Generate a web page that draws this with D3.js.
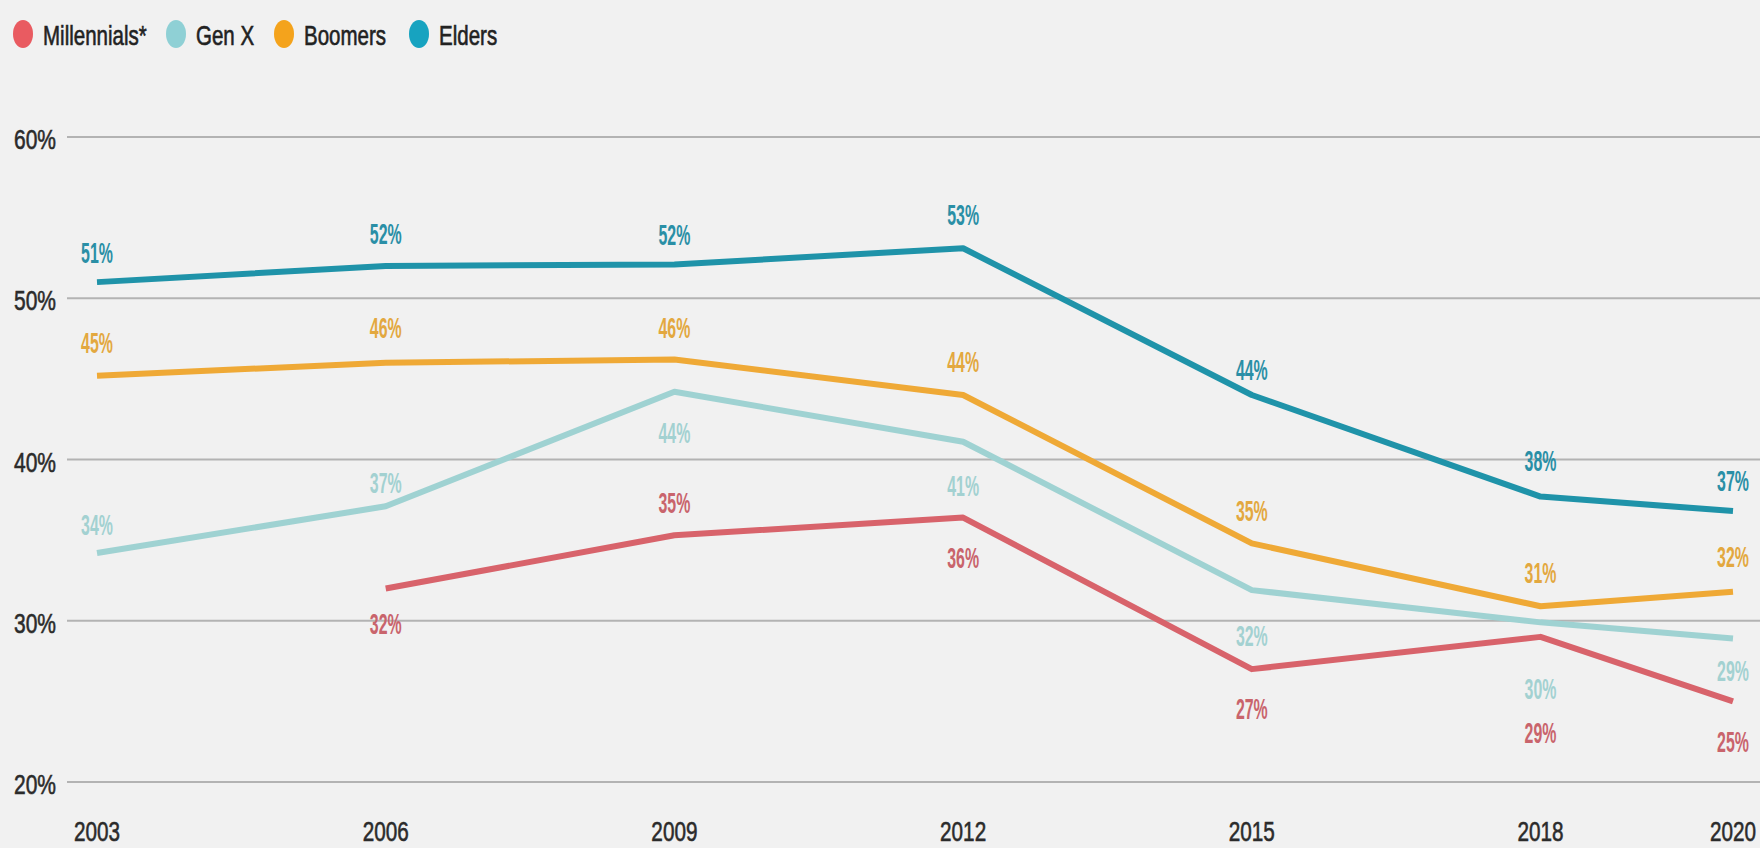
<!DOCTYPE html>
<html>
<head>
<meta charset="utf-8">
<script src="https://cdn.jsdelivr.net/npm/d3@7"></script>
<style>
  html, body { margin: 0; padding: 0; background: #f1f1f1; }
  svg { display: block; }
</style>
</head>
<body>
<svg id="chart" width="1760" height="848"></svg>
<script>
// ---- data ----
const years = [2003, 2006, 2009, 2012, 2015, 2018, 2020];
const seriesNames = ["Millennials*", "Gen X", "Boomers", "Elders"];
const millennials = [null, 32.0, 35.3, 36.4, 27.0, 29.0, 25.0];
const genX        = [34.2, 37.1, 44.2, 41.1, 31.9, 29.9, 28.9];
const boomers     = [45.2, 46.0, 46.2, 44.0, 34.8, 30.9, 31.8];
const elders      = [51.0, 52.0, 52.1, 53.1, 44.0, 37.7, 36.8];
const millennialsLabels = [null, "32%", "35%", "36%", "27%", "29%", "25%"];
const genXLabels        = ["34%", "37%", "44%", "41%", "32%", "30%", "29%"];
const boomersLabels     = ["45%", "46%", "46%", "44%", "35%", "31%", "32%"];
const eldersLabels      = ["51%", "52%", "52%", "53%", "44%", "38%", "37%"];
const yTicks = [20, 30, 40, 50, 60];
const yTickLabels = ["20%", "30%", "40%", "50%", "60%"];

// ---- layout / style (not data) ----
const lineColors  = ["#d8636b", "#9fd2d2", "#efa936", "#1f93a9"];
const labelColors = ["#c9646c", "#a3d1d1", "#e3a83f", "#2a8fa6"];
const dotColors   = ["#e95b61", "#8fd0d5", "#f4a31c", "#17a3c0"];
const legendX     = [23, 176, 284, 419];
// label vertical offset (px, centre of label relative to point)
const labelOffsets = [
  [null, 35, -33, 40, 39, 95, 40],
  [-29, -24, 40, 43, 45, 66, 32],
  [-33, -35, -32, -34, -33, -34, -35],
  [-30, -33, -30, -34, -26, -36, -31]
];

const svg = d3.select("#chart");
svg.append("rect").attr("width", 1760).attr("height", 848).attr("fill", "#f1f1f1");

const x = d3.scaleLinear().domain([2003, 2020]).range([97, 1733]);
const y = d3.scaleLinear().domain([20, 60]).range([782, 137]);

const FONT = "'Liberation Sans', Arial, sans-serif";

function condensedText(g, tx, ty, txt, opts) {
  return g.append("text")
    .attr("transform", `translate(${tx},${ty}) scale(${opts.sx},1)`)
    .attr("x", 0).attr("y", 0)
    .attr("text-anchor", opts.anchor || "middle")
    .attr("font-family", FONT)
    .attr("font-size", opts.size)
    .attr("font-weight", opts.weight || "normal")
    .attr("fill", opts.fill)
    .attr("stroke", opts.stroke ? opts.fill : "none")
    .attr("stroke-width", opts.stroke || 0)
    .text(txt);
}

// gridlines + y labels
const grid = svg.append("g");
yTicks.forEach((v, i) => {
  grid.append("line")
    .attr("x1", 67).attr("x2", 1760)
    .attr("y1", y(v)).attr("y2", y(v))
    .attr("stroke", "#b3b3b3").attr("stroke-width", 2);
  condensedText(grid, 56, y(v) + 2 + 0.358 * 28, yTickLabels[i],
    { size: 28, sx: 0.75, anchor: "end", fill: "#2b2b2b", stroke: 0.6 });
});

// x labels
const xg = svg.append("g");
years.forEach(yr => {
  condensedText(xg, x(yr), 841, String(yr),
    { size: 28, sx: 0.74, anchor: "middle", fill: "#2b2b2b", stroke: 0.6 });
});

// lines
const allSeries = [millennials, genX, boomers, elders];
const allLabels = [millennialsLabels, genXLabels, boomersLabels, eldersLabels];
const line = d3.line()
  .defined(d => d.v != null)
  .x(d => x(d.yr)).y(d => y(d.v));

const linesG = svg.append("g");
allSeries.forEach((s, si) => {
  const pts = years.map((yr, i) => ({ yr, v: s[i] }));
  linesG.append("path")
    .attr("d", line(pts))
    .attr("fill", "none")
    .attr("stroke", lineColors[si])
    .attr("stroke-width", 6)
    .attr("stroke-linejoin", "round")
    .attr("stroke-linecap", "butt");
});

// data labels
const labG = svg.append("g");
allSeries.forEach((s, si) => {
  years.forEach((yr, i) => {
    if (s[i] == null) return;
    const cy = y(s[i]) + labelOffsets[si][i];
    condensedText(labG, x(yr), cy + 0.358 * 30, allLabels[si][i],
      { size: 30, sx: 0.53, anchor: "middle", weight: "bold", fill: labelColors[si] });
  });
});

// legend
const leg = svg.append("g");
seriesNames.forEach((name, i) => {
  leg.append("ellipse")
    .attr("cx", legendX[i]).attr("cy", 34)
    .attr("rx", 10).attr("ry", 14)
    .attr("fill", dotColors[i]);
  condensedText(leg, legendX[i] + 20, 45, name,
    { size: 27, sx: 0.76, anchor: "start", fill: "#222", stroke: 0.6 });
});
</script>
</body>
</html>
